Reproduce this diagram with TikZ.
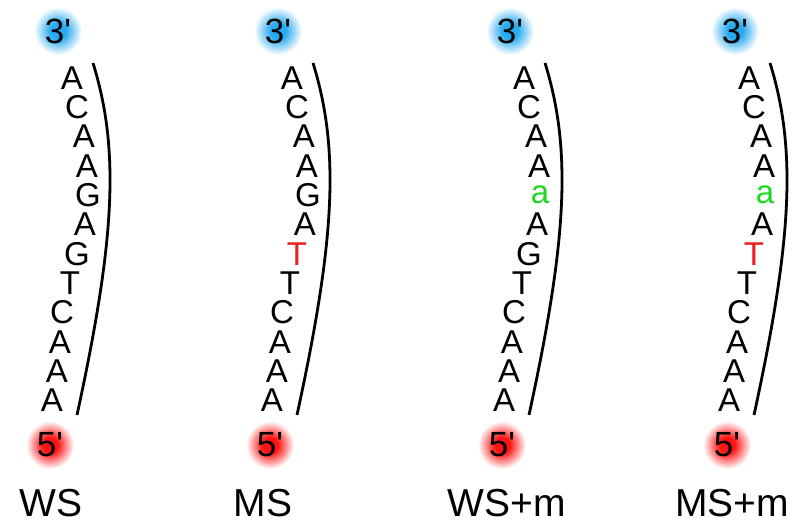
\documentclass[tikz,border=0pt]{standalone}
\usepackage{fontspec}
\setmainfont{Liberation Sans}
\usetikzlibrary{positioning}
\definecolor{glowblue}{RGB}{40,170,240}
\definecolor{glowred}{RGB}{255,20,20}
\definecolor{mutred}{RGB}{235,30,30}
\definecolor{modgreen}{RGB}{30,215,30}
\pgfdeclareradialshading{glowb}{\pgfpoint{0bp}{0bp}}{color(0bp)=(glowblue);color(8bp)=(glowblue);color(25bp)=(white);color(50bp)=(white)}
\pgfdeclareradialshading{glowr}{\pgfpoint{0bp}{0bp}}{color(0bp)=(glowred);color(8bp)=(glowred);color(25bp)=(white);color(50bp)=(white)}
\newcommand{\mT}{\textcolor{mutred}{T}}
\newcommand{\ga}{\textcolor{modgreen}{a}}

\begin{document}
\begin{tikzpicture}[x=1pt,y=-1pt,
    nt/.style={inner sep=0pt, font=\fontsize{33}{33}\selectfont},
    end3/.style={circle, minimum size=48pt, inner sep=0pt, shade, shading=glowb, font=\fontsize{35}{35}\selectfont},
    end5/.style={circle, minimum size=48pt, inner sep=0pt, shade, shading=glowr, font=\fontsize{35}{35}\selectfont},
    strand/.style={line width=2.8pt},
    caselabel/.style={inner sep=0pt, font=\fontsize{39}{39}\selectfont}]
    \useasboundingbox (0,0) rectangle (798,525);
    \foreach \k/\dx/\lx/\lab/\s in {1/0/51/WS/{A,C,A,A,G,A,G,T,C,A,A,A},
        2/220/263/MS/{A,C,A,A,G,A,\mT,T,C,A,A,A},
        3/452/507/WS+m/{A,C,A,A,\ga,A,G,T,C,A,A,A},
        4/677/732/MS+m/{A,C,A,A,\ga,A,\mT,T,C,A,A,A}} {
        \node[end3] (p\k) at (58+\dx,31) {3\textquotesingle};
        \node[end5] (q\k) at (50+\dx,445) {5\textquotesingle};
        \draw[strand] (93+\dx,63) .. controls (120+\dx,150) and (115+\dx,240) .. (77+\dx,415);
        \foreach \c [count=\i from 0] in \s {
            \pgfmathsetmacro\xx{{72,77,84,87,88,85,77,70,62,60,57,52}[\i]}
            \node[nt] (b\k-\i) at (\xx+\dx,78+29.3*\i) {\c};
        }
        \node[caselabel] (n\k) at (\lx,503) {\lab};
    }
\end{tikzpicture}
\end{document}
